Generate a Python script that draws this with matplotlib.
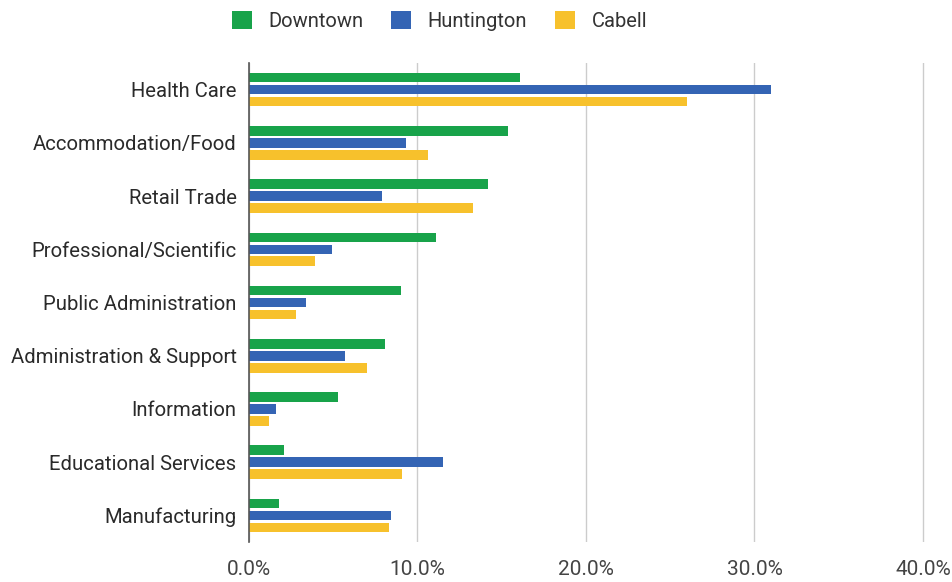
import matplotlib
matplotlib.use("Agg")
import matplotlib.pyplot as plt
import numpy as np
from matplotlib.patches import Patch
from matplotlib.ticker import FuncFormatter

plt.rcParams['font.family'] = ['Roboto', 'DejaVu Sans']

categories = ["Health Care", "Accommodation/Food", "Retail Trade",
              "Professional/Scientific", "Public Administration",
              "Administration & Support", "Information",
              "Educational Services", "Manufacturing"]
series_names = ["Downtown", "Huntington", "Cabell"]
downtown = [16.1, 15.4, 14.2, 11.1, 9.0, 8.1, 5.3, 2.1, 1.8]
huntington = [31.0, 9.3, 7.9, 4.9, 3.4, 5.7, 1.6, 11.5, 8.4]
cabell = [26.0, 10.6, 13.3, 3.9, 2.8, 7.0, 1.2, 9.1, 8.3]
x_ticks = [0, 10, 20, 30, 40]

colors = ["#18a34a", "#3464b4", "#f7c12c"]

fig = plt.figure(figsize=(9.53, 5.82), dpi=100)
ax = fig.add_axes([0.2613, 0.0687, 0.716, 0.823])

y = np.arange(len(categories))
offsets = [-0.225, 0.0, 0.225]
bar_h = 0.18
for vals, off, col in zip([downtown, huntington, cabell], offsets, colors):
    ax.barh(y + off, vals, height=bar_h, color=col, zorder=3)

ax.set_xlim(0, 40.5)
ax.set_ylim(len(categories) - 0.5, -0.5)
ax.set_yticks(y)
ax.set_yticklabels(categories, fontsize=14.6, color="#2a2a2a")
ax.set_xticks(x_ticks)
ax.xaxis.set_major_formatter(FuncFormatter(lambda v, p: f"{v:.1f}%"))
ax.tick_params(axis="x", labelsize=15, colors="#444444", length=0, pad=13)
ax.tick_params(axis="y", length=0, pad=9)

for s in ["top", "right", "bottom"]:
    ax.spines[s].set_visible(False)
ax.spines["left"].set_color("#555555")
ax.spines["left"].set_linewidth(1.2)
ax.spines["left"].set_zorder(4)

ax.grid(axis="x", color="#cccccc", linewidth=1, zorder=0)
ax.set_axisbelow(True)

handles = [Patch(facecolor=c, edgecolor="none") for c in colors]
fig.legend(handles, series_names, loc="center", bbox_to_anchor=(0.461, 0.964),
           ncol=3, frameon=False, fontsize=14.5, handlelength=1.0, handleheight=1.0,
           handletextpad=0.8, columnspacing=1.4, labelcolor="#333333")

fig.savefig("out.png", dpi=100, facecolor="white")
